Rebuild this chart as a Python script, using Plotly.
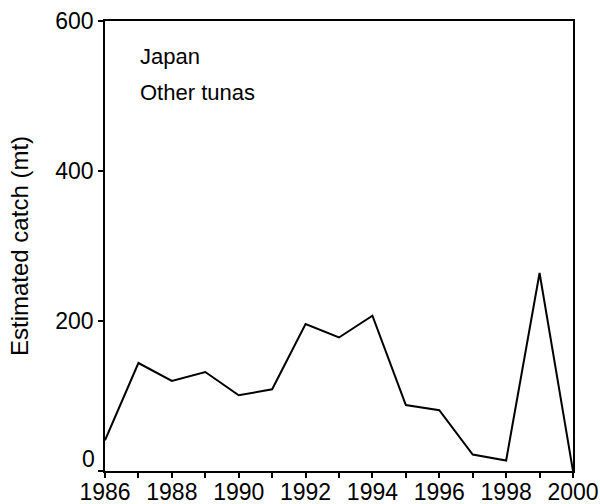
import plotly.graph_objects as go

years = list(range(1986, 2001))
catch_mt = [41, 144, 120, 132, 101, 109, 196, 178, 207, 88, 81, 22, 14, 264, 0]
x_tick_vals = list(range(1986, 2001, 2))
y_tick_vals = [0, 200, 400, 600]
# the zero label is raised off the corner so it clears the year labels
y_tick_text = ["" if v == 0 else str(v) for v in y_tick_vals]

fig = go.Figure()
fig.add_trace(go.Scatter(
    x=years, y=catch_mt, mode="lines",
    line=dict(color="black", width=2),
    showlegend=False, cliponaxis=False,
))

family = "Liberation Sans, Arial, sans-serif"
tick_font = dict(family=family, size=23, color="black")
title_font = dict(family=family, size=24, color="black")
note_font = dict(family=family, size=22, color="black")

fig.update_layout(
    width=600, height=504,
    margin=dict(l=105, r=27, t=21, b=33, autoexpand=False),
    paper_bgcolor="white", plot_bgcolor="white",
    font=tick_font,
    xaxis=dict(
        range=[1986, 2000], tickmode="array", tickvals=x_tick_vals,
        ticks="outside", ticklen=5, tickwidth=1.5, tickcolor="black",
        minor=dict(tickmode="array", tickvals=years, ticks="outside",
                   ticklen=5, tickwidth=1.5, tickcolor="black"),
        showline=True, linecolor="black", linewidth=1.5, mirror=True,
        showgrid=False, zeroline=False, tickfont=tick_font, automargin=False,
        ticklabelstandoff=-5,
    ),
    yaxis=dict(
        range=[0, 600], tickmode="array", tickvals=y_tick_vals,
        ticktext=y_tick_text,
        ticks="outside", ticklen=5, tickwidth=1.5, tickcolor="black",
        showline=True, linecolor="black", linewidth=1.5, mirror=True,
        showgrid=False, zeroline=False, tickfont=tick_font, automargin=False,
        title=dict(text="Estimated catch (mt)", font=title_font, standoff=20),
    ),
    annotations=[
        dict(text=str(y_tick_vals[0]), xref="paper", yref="y", x=0, y=y_tick_vals[0],
             xanchor="right", yanchor="middle", xshift=-8, yshift=12,
             showarrow=False, font=tick_font),
        dict(text="Japan", xref="paper", yref="paper", x=0.07, y=0.922,
             xanchor="left", yanchor="middle", showarrow=False, font=note_font),
        dict(text="Other tunas", xref="paper", yref="paper", x=0.07, y=0.841,
             xanchor="left", yanchor="middle", showarrow=False, font=note_font),
    ],
)

fig.write_html("out.html")
